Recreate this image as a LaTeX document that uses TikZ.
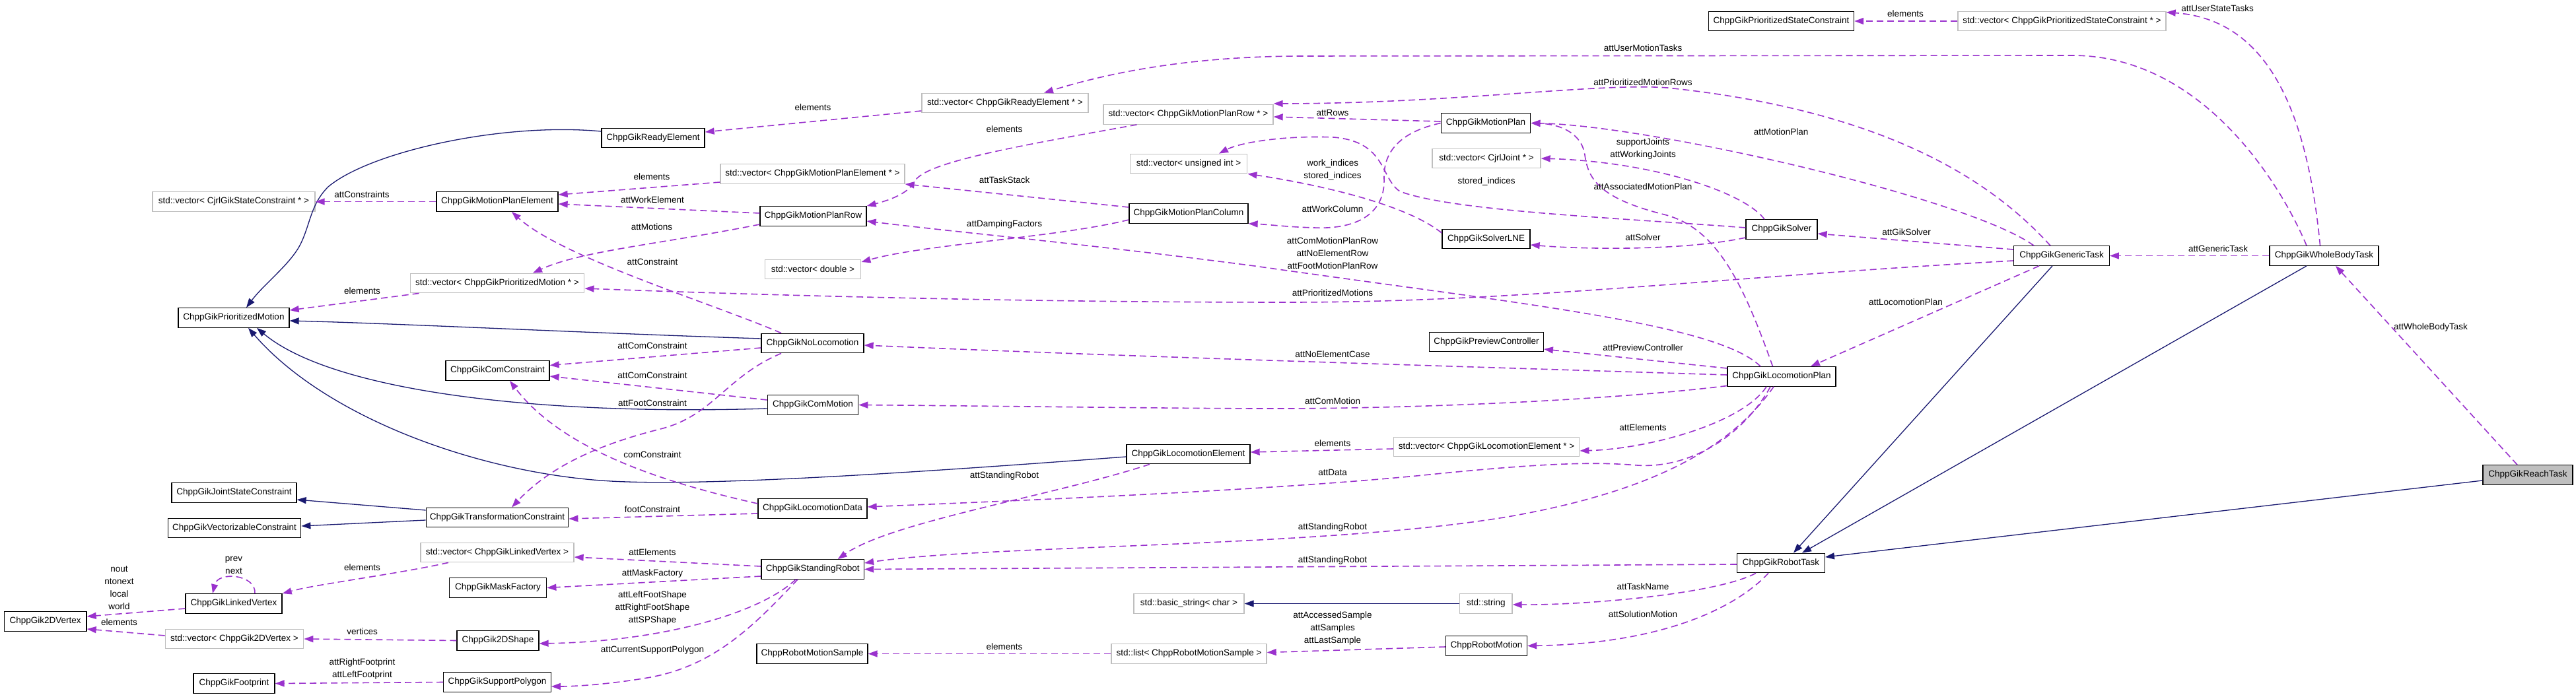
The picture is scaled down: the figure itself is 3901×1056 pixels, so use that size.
\documentclass[tikz,border=0pt]{standalone}
\usepackage{fontspec}
\setmainfont{Liberation Sans}
\usetikzlibrary{arrows.meta}
\definecolor{depc}{RGB}{154,50,205}
\definecolor{inhc}{RGB}{25,25,112}
\definecolor{tplc}{RGB}{191,191,191}
\newcommand{\dfont}{\fontsize{13.5}{19}\selectfont}
\tikzset{
 box/.style={inner sep=0pt, font=\dfont, minimum height=29.5pt, line width=1.3pt, fill=white},
 cls/.style={box, draw=black},
 tpl/.style={box, draw=tplc},
 rel/.style={draw=depc, line width=1.6pt, dash pattern=on 10pt off 6pt, -{Triangle[length=14pt,width=10pt]}},
 inh/.style={draw=inhc, line width=1.3pt, -{Triangle[length=14pt,width=10pt]}},
 lbl/.style={font=\dfont, inner sep=0pt, align=center},
}
\begin{document}
\begin{tikzpicture}[x=1pt,y=-1pt]
\useasboundingbox (0,0) rectangle (3901,1056);
% ---------- nodes ----------
\node[cls, minimum width=156pt] (RE) at (989,209) {ChppGikReadyElement};
\node[tpl, minimum width=246pt] (vecCGSC) at (354,305.5) {std::vector< CjrlGikStateConstraint * >};
\node[cls, minimum width=184pt] (MPE) at (753,305.5) {ChppGikMotionPlanElement};
\node[tpl, minimum width=252pt] (vecRE) at (1522,156) {std::vector< ChppGikReadyElement * >};
\node[tpl, minimum width=257pt] (vecMPR) at (1799.5,173.5) {std::vector< ChppGikMotionPlanRow * >};
\node[tpl, minimum width=177.5pt] (vecUI) at (1800,248) {std::vector< unsigned int >};
\node[tpl, minimum width=279pt] (vecMPE) at (1230.5,263.5) {std::vector< ChppGikMotionPlanElement * >};
\node[cls, minimum width=161pt] (MPR) at (1231.5,327.5) {ChppGikMotionPlanRow};
\node[cls, minimum width=180pt] (MPC) at (1800,323.5) {ChppGikMotionPlanColumn};
\node[cls, minimum width=220pt] (PSC) at (2697.5,32) {ChppGikPrioritizedStateConstraint};
\node[cls, minimum width=135.5pt] (MP) at (2250,186.5) {ChppGikMotionPlan};
\node[tpl, minimum width=164pt] (vecJ) at (2251,240) {std::vector< CjrlJoint * >};
\node[cls, minimum width=108pt] (Solver) at (2698,347.5) {ChppGikSolver};
\node[cls, minimum width=133pt] (LNE) at (2250.5,362) {ChppGikSolverLNE};
\node[tpl, minimum width=315pt] (vecPSC) at (3122.5,32) {std::vector< ChppGikPrioritizedStateConstraint * >};
\node[cls, minimum width=165pt] (WBT) at (3519.5,387.5) {ChppGikWholeBodyTask};
\node[cls, minimum width=144.5pt] (GT) at (3122,387.5) {ChppGikGenericTask};
\node[cls, minimum width=136pt, fill=tplc] (Reach) at (3828,719.5) {ChppGikReachTask};
\node[cls, minimum width=172.5pt] (PC) at (2251,518) {ChppGikPreviewController};
\node[cls, minimum width=164pt] (LP) at (2698,570.5) {ChppGikLocomotionPlan};
\node[tpl, minimum width=281.5pt] (vecLE) at (2251,677) {std::vector< ChppGikLocomotionElement * >};
\node[tpl, minimum width=145.5pt] (vecD) at (1231,408) {std::vector< double >};
\node[cls, minimum width=155pt] (NoLoc) at (1230.5,520) {ChppGikNoLocomotion};
\node[cls, minimum width=137.5pt] (ComMotion) at (1231,613.5) {ChppGikComMotion};
\node[cls, minimum width=187pt] (LE) at (1799.5,688) {ChppGikLocomotionElement};
\node[tpl, minimum width=263.6pt] (vecPM) at (753,429) {std::vector< ChppGikPrioritizedMotion * >};
\node[cls, minimum width=168pt] (PM) at (354,481.5) {ChppGikPrioritizedMotion};
\node[cls, minimum width=157pt] (ComC) at (753.5,561.5) {ChppGikComConstraint};
\node[cls, minimum width=189pt] (JSC) at (354.5,746.5) {ChppGikJointStateConstraint};
\node[cls, minimum width=201.5pt] (VC) at (355,800) {ChppGikVectorizableConstraint};
\node[cls, minimum width=215.5pt] (TC) at (753,784) {ChppGikTransformationConstraint};
\node[tpl, minimum width=232pt] (vecLV) at (753,837) {std::vector< ChppGikLinkedVertex >};
\node[cls, minimum width=147.5pt] (MF) at (754,890.5) {ChppGikMaskFactory};
\node[cls, minimum width=146pt] (LV) at (354,914.5) {ChppGikLinkedVertex};
\node[cls, minimum width=124.6pt] (V2D) at (68.7,941.5) {ChppGik2DVertex};
\node[tpl, minimum width=209.4pt] (vecV2D) at (355,968) {std::vector< ChppGik2DVertex >};
\node[cls, minimum width=124pt] (Shape2D) at (754,970.5) {ChppGik2DShape};
\node[cls, minimum width=123pt] (FP) at (354.5,1035.5) {ChppGikFootprint};
\node[cls, minimum width=162.4pt] (SP) at (753,1033.5) {ChppGikSupportPolygon};
\node[cls, minimum width=165pt] (LD) at (1230.5,770.5) {ChppGikLocomotionData};
\node[cls, minimum width=155.5pt] (SR) at (1230.7,862.5) {ChppGikStandingRobot};
\node[tpl, minimum width=167pt] (BS) at (1800.5,914.5) {std::basic\_string< char >};
\node[cls, minimum width=168pt] (RMS) at (1230,990.5) {ChppRobotMotionSample};
\node[tpl, minimum width=235pt] (listRMS) at (1800.5,990.5) {std::list< ChppRobotMotionSample >};
\node[cls, minimum width=132.6pt] (RT) at (2697,853) {ChppGikRobotTask};
\node[tpl, minimum width=79.4pt] (str) at (2250.3,914.5) {std::string};
\node[cls, minimum width=123pt] (RM) at (2251,978.5) {ChppRobotMotion};
% ---------- inheritance ----------
\draw[inh] ([yshift=10pt]RE.west) .. controls (760,185) and (560,230) .. (497,283) .. controls (470,310) and (470,340) .. (455,370) .. controls (440,400) and (400,430) .. ([xshift=19pt]PM.north);
\draw[inh] ([yshift=7pt]NoLoc.west) .. controls (900,505) and (600,490) .. ([yshift=-4.5pt]PM.east);
\draw[inh] ([yshift=-5.5pt]ComMotion.west) .. controls (800,630) and (500,590) .. ([xshift=35pt]PM.south);
\draw[inh] ([yshift=-4pt]LE.west) .. controls (1400,715) and (1100,735) .. (950,730) .. controls (750,725) and (500,640) .. ([xshift=22pt]PM.south);
\draw[inh] ([yshift=11pt]TC.west) -- ([yshift=-10.5pt]JSC.east);
\draw[inh] ([yshift=-4pt]TC.west) -- ([yshift=3pt]VC.east);
\draw[inh] ([xshift=-14pt]GT.south) -- ([xshift=19pt]RT.north);
\draw[inh] ([xshift=-26.5pt]WBT.south) -- ([xshift=32pt]RT.north);
\draw[inh] ([yshift=-8.5pt]Reach.west) -- ([yshift=9pt]RT.east);
\draw[inh] (str.west) -- (BS.east);
% ---------- usage ----------
\draw[rel] (MPE.west) -- (vecCGSC.east);
\node[lbl] (l1) at (548,295) {attConstraints};
\draw[rel] ([yshift=-12pt]vecRE.west) -- ([yshift=9pt]RE.east);
\node[lbl] (l2) at (1231,163) {elements};
\draw[rel] ([xshift=-26.5pt]WBT.north) .. controls (3450,270) and (3330,84) .. (3138,84) -- (1964,85) .. controls (1800,86) and (1680,110) .. ([xshift=59pt]vecRE.north);
\node[lbl] (l3) at (2488,73) {attUserMotionTasks};
\draw[rel] (vecPSC.west) -- (PSC.east);
\node[lbl] (l4) at (2885.5,21) {elements};
\draw[rel] ([xshift=-6pt]WBT.north) .. controls (3495,180) and (3440,30) .. ([yshift=-2pt]vecPSC.north east);
\node[lbl] (l5) at (3358,13) {attUserStateTasks};
\draw[rel] ([xshift=-17pt]GT.north) .. controls (3030,290) and (2880,170) .. (2525,133) .. controls (2420,125) and (2200,157) .. ([yshift=16.5pt]vecMPR.east);
\node[lbl] (l6) at (2488,125) {attPrioritizedMotionRows};
\draw[rel] ([yshift=2.5pt]MP.west) -- ([yshift=-3.5pt]vecMPR.east);
\node[lbl] (l7) at (2018,171) {attRows};
\draw[rel] ([xshift=-42pt]GT.north) .. controls (2980,300) and (2500,190) .. (MP.east);
\node[lbl] (l8) at (2697,200) {attMotionPlan};
\draw[rel] ([xshift=-78pt]vecMPR.south) .. controls (1550,220) and (1400,245) .. (1385,275) .. controls (1375,295) and (1340,305) .. (MPR.north east);
\node[lbl] (l9) at (1521,196) {elements};
\draw[rel] ([yshift=-12.5pt]vecMPE.west) -- ([yshift=10.5pt]MPE.east);
\node[lbl] (l10) at (987,268) {elements};
\draw[rel] ([yshift=4.5pt]MPR.west) -- ([yshift=-3.5pt]MPE.east);
\node[lbl] (l11) at (988,303) {attWorkElement};
\draw[rel] ([yshift=9.5pt]MPC.west) -- (vecMPE.south east);
\node[lbl] (l12) at (1521,273) {attTaskStack};
\draw[rel] ([yshift=-9.5pt]MPC.west) .. controls (1600,360) and (1400,370) .. ([yshift=11pt]vecD.east);
\node[lbl] (l13) at (1521,340) {attDampingFactors};
\draw[rel] ([xshift=-32pt]LP.north) .. controls (2600,490) and (2300,460) .. (1900,403) .. controls (1650,370) and (1450,352) .. ([yshift=-7.5pt]MPR.east);
\node[lbl] (l14) at (2018,384) {attComMotionPlanRow\\attNoElementRow\\attFootMotionPlanRow};
\draw[rel] ([xshift=-13.5pt]LP.north) .. controls (2640,430) and (2600,345) .. (2520,325) .. controls (2420,300) and (2405,270) .. (2400,235) .. controls (2395,200) and (2360,188) .. (MP.east);
\node[lbl] (l15) at (2488,283) {attAssociatedMotionPlan};
\draw[rel] ([yshift=2.5pt]Solver.west) .. controls (2450,330) and (2200,320) .. (2120,290) .. controls (2090,270) and (2100,215) .. (2020,208) .. controls (1950,205) and (1880,215) .. ([xshift=46pt]vecUI.north);
\node[lbl] (l16) at (2251,275) {stored\_indices};
\draw[rel] ([yshift=9pt]LNE.west) .. controls (2130,310) and (2000,280) .. (vecUI.south east);
\node[lbl] (l17) at (2018,257.5) {work\_indices\\stored\_indices};
\draw[rel] (MP.west) .. controls (2120,200) and (2095,230) .. (2096,270) .. controls (2098,320) and (2060,348) .. (1990,345) .. controls (1950,344) and (1920,340) .. (MPC.south east);
\node[lbl] (l18) at (2018,317) {attWorkColumn};
\draw[rel] ([xshift=-26pt]Solver.north) .. controls (2640,290) and (2500,245) .. (vecJ.east);
\node[lbl] (l19) at (2488,225.5) {supportJoints\\attWorkingJoints};
\draw[rel] ([yshift=-12.5pt]Solver.west) .. controls (2550,380) and (2400,378) .. ([yshift=-9pt]LNE.east);
\node[lbl] (l20) at (2488,360) {attSolver};
\draw[rel] ([yshift=9.5pt]GT.west) -- ([yshift=-6.5pt]Solver.east);
\node[lbl] (l21) at (2887,352) {attGikSolver};
\draw[rel] ([xshift=-34pt]GT.south) -- ([xshift=44pt]LP.north);
\node[lbl] (l22) at (2886,458) {attLocomotionPlan};
\draw[rel] (WBT.west) -- (GT.east);
\node[lbl] (l23) at (3359,377) {attGenericTask};
\draw[rel] ([xshift=-16pt]Reach.north) -- ([xshift=17.5pt]WBT.south);
\node[lbl] (l24) at (3681,496) {attWholeBodyTask};
\draw[rel] ([yshift=-7.5pt]GT.west) .. controls (2600,420) and (2300,458) .. (1950,458) .. controls (1500,458) and (1100,445) .. ([yshift=-8pt]vecPM.east);
\node[lbl] (l25) at (2018,444) {attPrioritizedMotions};
\draw[rel] ([yshift=-12.5pt]MPR.west) .. controls (1000,370) and (880,380) .. ([xshift=54pt]vecPM.north);
\node[lbl] (l26) at (987,344) {attMotions};
\draw[rel] ([xshift=-47.5pt]NoLoc.north) .. controls (1080,460) and (850,390) .. ([xshift=22pt]MPE.south);
\node[lbl] (l27) at (988,397) {attConstraint};
\draw[rel] ([xshift=-118.5pt]vecPM.south) -- ([yshift=11.5pt]PM.east);
\node[lbl] (l28) at (548.5,441) {elements};
\draw[rel] ([yshift=-7pt]NoLoc.west) -- ([yshift=8pt]ComC.east);
\node[lbl] (l29) at (988,524) {attComConstraint};
\draw[rel] ([yshift=7.5pt]ComMotion.west) -- ([yshift=-8.5pt]ComC.east);
\node[lbl] (l30) at (988,569) {attComConstraint};
\draw[rel] ([xshift=-47.5pt]NoLoc.south) .. controls (1100,570) and (1080,630) .. (1000,650) .. controls (900,675) and (830,710) .. ([xshift=22pt]TC.north);
\node[lbl] (l31) at (988,611) {attFootConstraint};
\draw[rel] ([yshift=7.5pt]LD.west) .. controls (1000,730) and (850,680) .. ([xshift=18.5pt]ComC.south);
\node[lbl] (l32) at (988,689) {comConstraint};
\draw[rel] ([yshift=-7.5pt]LD.west) -- ([yshift=-2pt]TC.east);
\node[lbl] (l33) at (988,772) {footConstraint};
\draw[rel] ([yshift=2.5pt]LP.west) .. controls (2200,555) and (1700,540) .. ([yshift=-3pt]NoLoc.east);
\node[lbl] (l34) at (2018,537) {attNoElementCase};
\draw[rel] ([yshift=-14pt]LP.west) .. controls (2450,605) and (2150,620) .. (1900,619) .. controls (1700,618) and (1500,615) .. (ComMotion.east);
\node[lbl] (l35) at (2018,608) {attComMotion};
\draw[rel] ([yshift=12.5pt]LP.west) -- ([yshift=-11pt]PC.east);
\node[lbl] (l36) at (2488,527) {attPreviewController};
\draw[rel] ([xshift=-23pt]LP.south) .. controls (2640,640) and (2500,680) .. ([yshift=-6pt]vecLE.east);
\node[lbl] (l37) at (2488,648) {attElements};
\draw[rel] ([yshift=-3pt]vecLE.west) -- ([yshift=3pt]LE.east);
\node[lbl] (l38) at (2018,672) {elements};
\draw[rel] ([xshift=-17pt]LP.south) .. controls (2640,660) and (2560,710) .. (2480,705) .. controls (2420,700) and (2350,700) .. (2155,720) .. controls (1900,745) and (1500,760) .. ([yshift=2.5pt]LD.east);
\node[lbl] (l39) at (2018,716) {attData};
\draw[rel] ([xshift=-12pt]LP.south) .. controls (2620,680) and (2500,745) .. (2283,783) .. controls (2000,830) and (1500,825) .. ([yshift=9.5pt]SR.east);
\node[lbl] (l40) at (2018,799) {attStandingRobot};
\draw[rel] ([yshift=-2pt]RT.west) -- (SR.east);
\node[lbl] (l41) at (2018,849) {attStandingRobot};
\draw[rel] ([xshift=-58.5pt]LE.south) .. controls (1600,750) and (1350,790) .. ([xshift=38pt]SR.north);
\node[lbl] (l42) at (1521,721) {attStandingRobot};
\draw[rel] ([yshift=4.5pt]SR.west) -- ([yshift=-7pt]vecLV.east);
\node[lbl] (l43) at (988,837) {attElements};
\draw[rel] ([yshift=-10.5pt]SR.west) -- (MF.east);
\node[lbl] (l44) at (988,869) {attMaskFactory};
\draw[rel] ([xshift=-25.7pt]SR.south) .. controls (1150,930) and (1000,972) .. ([yshift=-4.5pt]Shape2D.east);
\node[lbl] (l45) at (988,921.5) {attLeftFootShape\\attRightFootShape\\attSPShape};
\draw[rel] ([xshift=-22.7pt]SR.south) .. controls (1140,950) and (1080,1010) .. (980,1027) .. controls (920,1037) and (870,1040) .. ([yshift=-6.5pt]SP.east);
\node[lbl] (l46) at (988,985) {attCurrentSupportPolygon};
\draw[rel] ([xshift=-74pt]vecLV.south) .. controls (600,870) and (480,885) .. (LV.north east);
\node[lbl] (l47) at (548.5,860) {elements};
\draw[rel] ([xshift=32pt]LV.north) .. controls (388,870) and (330,865) .. ([xshift=-32pt]LV.north);
\node[lbl] (l48) at (354,856) {prev\\next};
\draw[rel] ([yshift=-7.5pt]LV.west) -- ([yshift=7.5pt]V2D.east);
\node[lbl] (l49) at (180.5,891) {nout\\ntonext\\local\\world};
\draw[rel] ([yshift=5pt]vecV2D.west) -- ([yshift=-11.5pt]V2D.east);
\node[lbl] (l50) at (180.5,943) {elements};
\draw[rel] (Shape2D.west) -- (vecV2D.east);
\node[lbl] (l51) at (548.5,957) {vertices};
\draw[rel] (SP.west) -- (FP.east);
\node[lbl] (l52) at (548.5,1013.5) {attRightFootprint\\attLeftFootprint};
\draw[rel] ([xshift=-38pt]RT.south) .. controls (2600,900) and (2400,917) .. ([yshift=-1.5pt]str.east);
\node[lbl] (l53) at (2488,889) {attTaskName};
\draw[rel] ([xshift=-19pt]RT.south) .. controls (2630,920) and (2520,975) .. (RM.east);
\node[lbl] (l54) at (2488,931) {attSolutionMotion};
\draw[rel] ([yshift=-1.5pt]RM.west) -- ([yshift=2pt]listRMS.east);
\node[lbl] (l55) at (2018,952) {attAccessedSample\\attSamples\\attLastSample};
\draw[rel] (listRMS.west) -- (RMS.east);
\node[lbl] (l56) at (1521,980) {elements};
\end{tikzpicture}
\end{document}
